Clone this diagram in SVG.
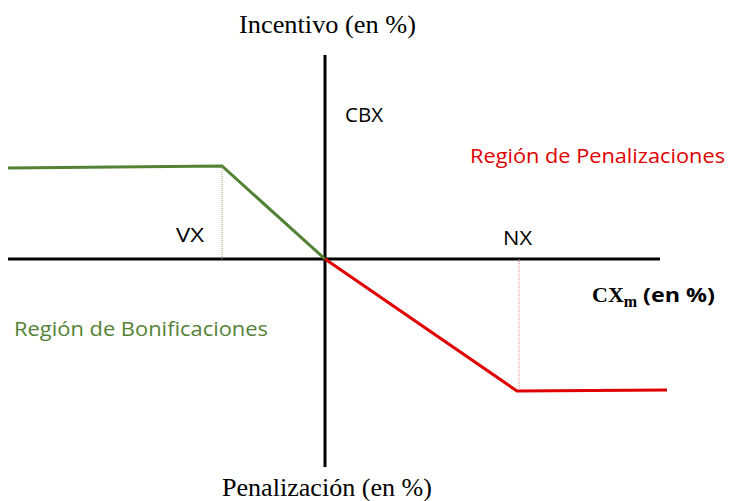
<svg xmlns="http://www.w3.org/2000/svg" width="729" height="501" viewBox="0 0 729 501">
<style>
.ax{stroke:#000;stroke-width:3;fill:none}
.g{stroke:#548235;stroke-width:3;fill:none}
.r{stroke:#e00000;stroke-width:3;fill:none}
.sans{font-family:"Open Sans","Liberation Sans",sans-serif;font-size:20px}
.serif{font-family:"Liberation Serif",serif;font-size:25px}
</style>
<rect width="729" height="501" fill="#fff"/>
<g id="connectors">
<line class="ax" x1="8" y1="259" x2="660" y2="259"/>
<line class="ax" x1="325" y1="55" x2="325" y2="467"/>
<polyline class="g" points="8,168 222,166 325,259"/>
<line x1="222" y1="166" x2="222" y2="262" stroke="#8fb07a" stroke-width="1" stroke-dasharray="1,1"/>
<polyline class="r" points="325,259 517,391 667,390"/>
<line x1="519" y1="259" x2="519" y2="391" stroke="#f08080" stroke-width="1" stroke-dasharray="1,1"/>
</g>
<g id="labels">
<text class="serif" x="239" y="33" textLength="177" lengthAdjust="spacingAndGlyphs">Incentivo (en %)</text>
<text class="serif" x="222" y="496" textLength="210" lengthAdjust="spacingAndGlyphs">Penalización (en %)</text>
<text class="sans" x="345" y="122" textLength="38" lengthAdjust="spacingAndGlyphs">CBX</text>
<text class="sans" x="470" y="163" fill="#e00000" textLength="255" lengthAdjust="spacingAndGlyphs">Región de Penalizaciones</text>
<text class="sans" x="176" y="242" textLength="28" lengthAdjust="spacingAndGlyphs">VX</text>
<text class="sans" x="503" y="245" textLength="29" lengthAdjust="spacingAndGlyphs">NX</text>
<text class="sans" x="14" y="336" fill="#548235" textLength="254" lengthAdjust="spacingAndGlyphs">Región de Bonificaciones</text>
<text x="592" y="302" font-weight="bold"><tspan font-family="Liberation Serif,serif" font-size="22px">CX</tspan><tspan font-family="Liberation Serif,serif" font-size="16px" dy="5">m</tspan><tspan font-family="Open Sans,Liberation Sans,sans-serif" font-size="19px" dy="-5" x="643" textLength="72" lengthAdjust="spacingAndGlyphs">(en %)</tspan></text>
</g>
</svg>
